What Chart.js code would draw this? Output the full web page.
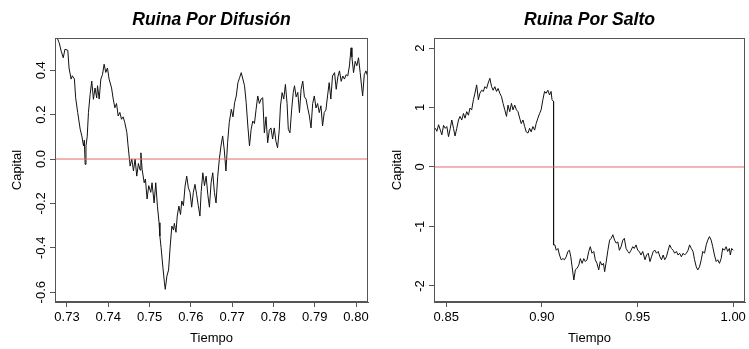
<!DOCTYPE html>
<html>
<head>
<meta charset="utf-8">
<script src="https://cdn.jsdelivr.net/npm/chart.js@4.4.1/dist/chart.umd.min.js"></script>
<style>
  body { margin: 0; background: #fff; }
  canvas { position: absolute; top: 0; }
  #difChart { left: 0; }
  #saltoChart { left: 380px; }
</style>
</head>
<body>
<canvas id="difChart" width="380" height="349"></canvas>
<canvas id="saltoChart" width="369" height="349"></canvas>
<script>
// Ruina por difusion (left panel)
const difTime = [
  0.7273, 0.7281, 0.7286, 0.7291, 0.7295, 0.7302, 0.7305, 0.7310, 0.7313, 0.7318,
  0.7321, 0.7326, 0.7332, 0.7336, 0.7340, 0.7342, 0.7344, 0.7346, 0.7349, 0.7352,
  0.7356, 0.7360, 0.7364, 0.7368, 0.7372, 0.7374, 0.7378, 0.7382, 0.7386, 0.7390,
  0.7394, 0.7398, 0.7402, 0.7408, 0.7412, 0.7416, 0.7420, 0.7424, 0.7428, 0.7432,
  0.7436, 0.7440, 0.7445, 0.7448, 0.7453, 0.7457, 0.7461, 0.7465, 0.7469, 0.7473,
  0.7477, 0.7479, 0.7482, 0.7487, 0.7490, 0.7494, 0.7498, 0.7503, 0.7506, 0.7511,
  0.7515, 0.7519, 0.7523, 0.7525,
  0.7528, 0.7532, 0.7536, 0.7538, 0.7542, 0.7546, 0.7550, 0.7554, 0.7558, 0.7560,
  0.7564, 0.7567, 0.7571, 0.7575, 0.7578, 0.7582, 0.7586, 0.7590, 0.7594, 0.7598,
  0.7602, 0.7606, 0.7610, 0.7614, 0.7618, 0.7622, 0.7625, 0.7629, 0.7633, 0.7637,
  0.7641, 0.7645, 0.7649, 0.7653, 0.7657, 0.7661, 0.7665, 0.7669, 0.7673, 0.7677,
  0.7681, 0.7685, 0.7689, 0.7693, 0.7698, 0.7702, 0.7706, 0.7710, 0.7714, 0.7718,
  0.7722, 0.7726, 0.7730, 0.7734, 0.7738, 0.7742, 0.7746, 0.7750, 0.7754, 0.7758,
  0.7762, 0.7766, 0.7770,
  0.7774, 0.7778, 0.7782, 0.7786, 0.7790, 0.7794, 0.7798, 0.7802, 0.7806, 0.7810,
  0.7814, 0.7817, 0.7821, 0.7825, 0.7829, 0.7833, 0.7836, 0.7840, 0.7844, 0.7848,
  0.7851, 0.7855, 0.7859, 0.7863, 0.7867, 0.7871, 0.7875, 0.7879, 0.7883, 0.7887,
  0.7891, 0.7895, 0.7899, 0.7903, 0.7907, 0.7911, 0.7915, 0.7919, 0.7923, 0.7927,
  0.7931, 0.7935, 0.7939, 0.7943, 0.7948, 0.7952, 0.7956, 0.7960, 0.7964, 0.7968,
  0.7972, 0.7976, 0.7980, 0.7984, 0.7988, 0.7990, 0.7994, 0.7998, 0.8002, 0.8006,
  0.8010, 0.8016, 0.8020, 0.8024, 0.8028
];
const difCapital = [
  0.56, 0.524, 0.486, 0.456, 0.494, 0.49, 0.41, 0.36, 0.375, 0.36,
  0.276, 0.209, 0.134, 0.104, 0.059, 0.085, -0.024, 0.059, 0.10, 0.209,
  0.29, 0.351, 0.269, 0.32, 0.275, 0.33, 0.27, 0.36, 0.38, 0.427,
  0.39, 0.41, 0.36, 0.32, 0.27, 0.231, 0.25, 0.194, 0.21, 0.179,
  0.19, 0.164, 0.12, 0.059, -0.032, 0.0, -0.054, 0.0, -0.077, -0.02,
  -0.05, 0.028, -0.047, -0.107, -0.09, -0.18, -0.12, -0.15, -0.107, -0.198,
  -0.107, -0.212, -0.287, -0.347,
  -0.40, -0.482, -0.557, -0.587, -0.527, -0.50, -0.392, -0.302, -0.32, -0.29,
  -0.33, -0.257, -0.212, -0.25, -0.189, -0.21, -0.122, -0.077, -0.13, -0.15,
  -0.217, -0.15, -0.114, -0.16, -0.21, -0.257, -0.147, -0.062, -0.12, -0.077,
  -0.16, -0.217, -0.107, -0.062, -0.15, -0.198, -0.08, 0.0, 0.059, 0.104,
  0.04, -0.054, 0.074, 0.164, 0.224, 0.19, 0.254, 0.284, 0.344, 0.366,
  0.389, 0.36, 0.33, 0.254, 0.149, 0.059, 0.134, 0.171, 0.16, 0.224,
  0.284, 0.25, 0.27,
  0.276, 0.118, 0.19, 0.073, 0.13, 0.14, 0.09, 0.14, 0.08, 0.051,
  0.13, 0.239, 0.299, 0.27, 0.336, 0.25, 0.134, 0.118, 0.22, 0.30,
  0.33, 0.28, 0.30, 0.209, 0.314, 0.351, 0.28, 0.27, 0.23, 0.194,
  0.14, 0.25, 0.284, 0.23, 0.25, 0.209, 0.24, 0.149, 0.21, 0.22,
  0.284, 0.344, 0.27, 0.374, 0.389, 0.314, 0.37, 0.397, 0.35, 0.374,
  0.36, 0.38, 0.374, 0.419, 0.501, 0.46, 0.389, 0.44, 0.42, 0.456,
  0.39, 0.284, 0.38, 0.397, 0.374
];
const difXTicks = [0.73, 0.74, 0.75, 0.76, 0.77, 0.78, 0.79, 0.80];
const difYTicks = [-0.6, -0.4, -0.2, 0.0, 0.2, 0.4];

// Ruina por salto (right panel)
const saltoTime = [
  0.8436, 0.8443, 0.8451, 0.8460, 0.8469, 0.8477, 0.8486, 0.8495, 0.8503, 0.8512,
  0.8521, 0.8529, 0.8538, 0.8546, 0.8555, 0.8564, 0.8572, 0.8581, 0.8590, 0.8598,
  0.8607, 0.8616, 0.8624, 0.8633, 0.8642, 0.8650, 0.8659, 0.8668, 0.8676, 0.8685,
  0.8694, 0.8702, 0.8711, 0.8719, 0.8728, 0.8737, 0.8745, 0.8754, 0.8763, 0.8771,
  0.8780, 0.8789, 0.8797, 0.8806, 0.8815, 0.8823, 0.8832, 0.8841, 0.8849, 0.8858,
  0.8867, 0.8875, 0.8884, 0.8892, 0.8901, 0.8910, 0.8918, 0.8927, 0.8936, 0.8944,
  0.8953, 0.8962, 0.8970, 0.8979, 0.8988, 0.8996, 0.9005, 0.9014, 0.9022, 0.9031,
  0.9040, 0.9048, 0.9053, 0.9061, 0.9061,
  0.9068, 0.9075, 0.9084, 0.9092, 0.9101, 0.9110, 0.9118, 0.9127, 0.9136, 0.9144,
  0.9151, 0.9158, 0.9167, 0.9175, 0.9184, 0.9193, 0.9201, 0.9210, 0.9219, 0.9227,
  0.9236, 0.9245, 0.9253, 0.9262, 0.9271, 0.9279, 0.9288, 0.9297, 0.9305, 0.9314,
  0.9322, 0.9328, 0.9335, 0.9345, 0.9354, 0.9362, 0.9371, 0.9380, 0.9388, 0.9397,
  0.9405, 0.9414, 0.9423, 0.9431, 0.9440, 0.9449, 0.9457, 0.9466, 0.9475, 0.9483,
  0.9492, 0.9501, 0.9509, 0.9518, 0.9527,
  0.9539, 0.9547, 0.9556, 0.9565, 0.9573, 0.9582, 0.9591, 0.9599, 0.9608, 0.9617,
  0.9625, 0.9634, 0.9642, 0.9651, 0.9660, 0.9668, 0.9677, 0.9686, 0.9694, 0.9703,
  0.9712, 0.9720, 0.9729, 0.9738, 0.9746, 0.9755, 0.9764, 0.9772, 0.9781, 0.9790,
  0.9798, 0.9807, 0.9815, 0.9824, 0.9833, 0.9841, 0.9850, 0.9859, 0.9867, 0.9876,
  0.9885, 0.9893, 0.9902, 0.9911, 0.9919, 0.9928, 0.9937, 0.9945, 0.9954, 0.9963,
  0.9971, 0.9980, 0.9985, 0.9992, 1.0000
];
const saltoCapital = [
  0.62, 0.65, 0.60, 0.71, 0.62, 0.54, 0.70, 0.65, 0.68, 0.51,
  0.65, 0.79, 0.65, 0.52, 0.65, 0.79, 0.85, 0.79, 0.90, 0.82,
  0.93, 0.87, 0.99, 0.96, 1.13, 1.24, 1.38, 1.13, 1.24, 1.29,
  1.27, 1.35, 1.32, 1.41, 1.49, 1.35, 1.29, 1.35, 1.27, 1.32,
  1.24, 1.18, 1.07, 0.96, 0.85, 1.04, 0.93, 1.07, 0.96, 1.04,
  0.96, 0.93, 0.82, 0.73, 0.79, 0.68, 0.59, 0.57, 0.65, 0.59,
  0.68, 0.62, 0.73, 0.82, 0.90, 0.96, 1.13, 1.27, 1.24, 1.29,
  1.21, 1.27, 1.13, 1.10, -1.31,
  -1.31, -1.40, -1.37, -1.48, -1.56, -1.54, -1.56, -1.51, -1.42, -1.40,
  -1.51, -1.68, -1.90, -1.73, -1.70, -1.65, -1.54, -1.62, -1.54, -1.59,
  -1.56, -1.42, -1.34, -1.45, -1.42, -1.56, -1.62, -1.73, -1.59, -1.65,
  -1.62, -1.76, -1.62, -1.40, -1.23, -1.20, -1.14, -1.23, -1.28, -1.26,
  -1.40, -1.34, -1.23, -1.20, -1.37, -1.42, -1.45, -1.40, -1.34, -1.37,
  -1.31, -1.40, -1.42, -1.48, -1.42,
  -1.56, -1.48, -1.45, -1.59, -1.51, -1.42, -1.40, -1.45, -1.42, -1.51,
  -1.56, -1.48, -1.56, -1.51, -1.40, -1.31, -1.37, -1.40, -1.45, -1.42,
  -1.48, -1.45, -1.51, -1.45, -1.48, -1.45, -1.40, -1.31, -1.37, -1.42,
  -1.56, -1.68, -1.73, -1.68, -1.56, -1.42, -1.45, -1.31, -1.23, -1.17,
  -1.23, -1.34, -1.48, -1.59, -1.56, -1.62, -1.54, -1.37, -1.40, -1.34,
  -1.42, -1.37, -1.48, -1.37, -1.40
];
const saltoXTicks = [0.85, 0.90, 0.95, 1.00];
const saltoYTicks = [-2, -1, 0, 1, 2];

const FONT = '"Liberation Sans", Arial, Helvetica, sans-serif';
const AXIS_COLOR = '#555';

// R style box around the plot region
const boxPlugin = {
  id: 'rbox',
  afterDraw(chart) {
    const a = chart.chartArea;
    const ctx = chart.ctx;
    ctx.save();
    ctx.strokeStyle = AXIS_COLOR;
    ctx.lineWidth = 1;
    ctx.strokeRect(Math.round(a.left) + 0.5, Math.round(a.top) + 0.5,
      Math.round(a.right - a.left) - 1, Math.round(a.bottom - a.top) - 1);
    ctx.restore();
  }
};

function makePlot(canvasId, cfg) {
  const points = cfg.time.map((t, i) => ({ x: t, y: cfg.capital[i] }));
  return new Chart(document.getElementById(canvasId), {
    type: 'line',
    data: {
      datasets: [
        {
          // horizontal reference line at zero
          data: [{ x: cfg.xMin, y: 0 }, { x: cfg.xMax, y: 0 }],
          borderColor: '#e66a6a',
          borderWidth: 1,
          pointRadius: 0
        },
        {
          data: points,
          borderColor: '#111',
          borderWidth: 1,
          pointRadius: 0,
          tension: 0
        }
      ]
    },
    options: {
      responsive: false,
      animation: false,
      layout: { padding: { left: 0, right: cfg.padRight, top: 0, bottom: 0 } },
      plugins: {
        legend: { display: false },
        tooltip: { enabled: false },
        title: {
          display: true,
          text: cfg.title,
          fullSize: false,
          color: '#000',
          font: { family: FONT, size: 17.6, weight: 'bold', style: 'italic' },
          padding: { top: 10, bottom: 6.9 }
        }
      },
      scales: {
        x: {
          type: 'linear',
          min: cfg.xMin,
          max: cfg.xMax,
          afterBuildTicks: s => { s.ticks = cfg.xTicks.map(v => ({ value: v })); },
          afterFit: s => { s.height = 47; },
          ticks: {
            color: '#000',
            font: { family: FONT, size: 13 },
            padding: 3,
            maxRotation: 0,
            autoSkip: false,
            callback: v => v.toFixed(2)
          },
          grid: { drawOnChartArea: false, drawTicks: true, tickLength: 5, color: AXIS_COLOR },
          border: { display: true, color: AXIS_COLOR },
          title: {
            display: true,
            text: 'Tiempo',
            color: '#000',
            font: { family: FONT, size: 13 },
            padding: { top: 0, bottom: 3 }
          }
        },
        y: {
          type: 'linear',
          min: cfg.yMin,
          max: cfg.yMax,
          afterBuildTicks: s => { s.ticks = cfg.yTicks.map(v => ({ value: v })); },
          afterFit: s => { s.width = cfg.yWidth; },
          ticks: {
            color: '#000',
            font: { family: FONT, size: 13 },
            minRotation: 90,
            maxRotation: 90,
            crossAlign: 'center',
            padding: cfg.yTickPad,
            autoSkip: false,
            callback: v => cfg.yFmt(v)
          },
          grid: { drawOnChartArea: false, drawTicks: true, tickLength: 5, color: AXIS_COLOR },
          border: { display: true, color: AXIS_COLOR },
          title: {
            display: true,
            text: 'Capital',
            color: '#000',
            font: { family: FONT, size: 13 },
            padding: { top: 10, bottom: 0 }
          }
        }
      }
    },
    plugins: [boxPlugin]
  });
}

makePlot('difChart', {
  title: 'Ruina Por Difusión',
  time: difTime,
  capital: difCapital,
  xTicks: difXTicks,
  yTicks: difYTicks,
  xMin: 0.7271, xMax: 0.8029,
  yMin: -0.644, yMax: 0.545,
  yWidth: 55,
  yTickPad: -3,
  padRight: 12,
  yFmt: v => v.toFixed(1)
});

makePlot('saltoChart', {
  title: 'Ruina Por Salto',
  time: saltoTime,
  capital: saltoCapital,
  xTicks: saltoXTicks,
  yTicks: saltoYTicks,
  xMin: 0.8436, xMax: 1.0062,
  yMin: -2.27, yMax: 2.168,
  yWidth: 54,
  yTickPad: 2.5,
  padRight: 1,
  yFmt: v => String(v)
});
</script>
</body>
</html>
